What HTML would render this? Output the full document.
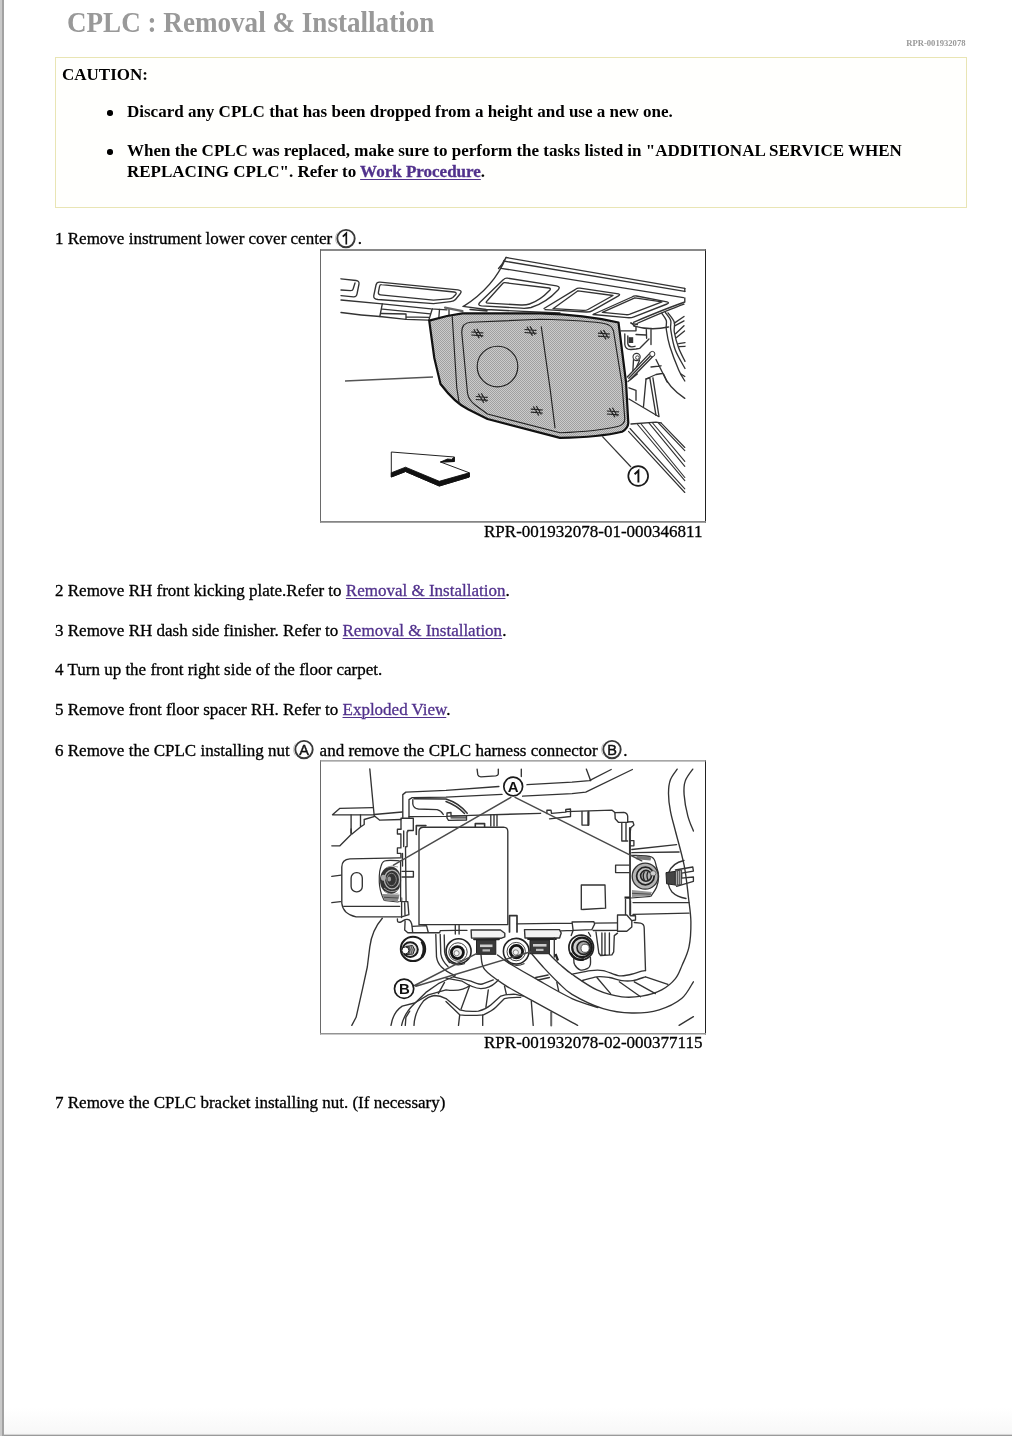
<!DOCTYPE html>
<html><head><meta charset="utf-8">
<style>
html,body{margin:0;padding:0;background:#fff;}
body{width:1012px;height:1436px;position:relative;overflow:hidden;font-family:"Liberation Serif",serif;color:#000;will-change:transform;}
#lstrip{position:absolute;left:0;top:0;width:4px;height:1436px;background:linear-gradient(to right,#c9c9c9 0,#c9c9c9 2px,#a2a2a2 2.5px,#a2a2a2 3.5px,#fff 4px);}
#bot{position:absolute;left:4px;top:1408px;width:1008px;height:28px;background:linear-gradient(to bottom,#fff 0,#f8f8f8 24px,#f4f4f4 26px,#9a9a9a 27.5px,#9a9a9a 28px);}
h1{position:absolute;left:67px;top:4.6px;margin:0;font-size:29.3px;line-height:34px;font-weight:bold;color:#999;white-space:nowrap;transform:scaleX(0.925);transform-origin:0 0;}
#rid{position:absolute;right:46.5px;top:38px;font-size:8.6px;font-weight:bold;color:#999;}
#caut{position:absolute;left:55px;top:57px;width:910px;height:149px;border:1px solid #e9e5b4;background:#fffffd;font-weight:bold;font-size:17px;}
#caut .t{position:absolute;left:6px;top:7px;}
.bl{position:absolute;left:71px;white-space:nowrap;line-height:20px;}
.bl i{position:absolute;left:-19.7px;top:8.3px;width:5.4px;height:5.4px;border-radius:50%;background:#000;}
a{-webkit-text-stroke:0.3px #51318c;color:#51318c;text-decoration:underline;text-underline-offset:2px;text-decoration-thickness:1px;}
.st{-webkit-text-stroke:0.3px #000;position:absolute;left:55px;font-size:17px;white-space:nowrap;line-height:20px;}
.cap{-webkit-text-stroke:0.3px #000;position:absolute;font-size:17px;white-space:nowrap;line-height:20px;}
.c{display:inline-block;width:21.4px;height:20px;vertical-align:top;position:relative;}
.c svg{position:absolute;left:-3.1px;top:-3px;}
.c1 svg{left:-3.1px;top:-2.2px;}
.fig{position:absolute;background:#fff;}
</style></head><body>
<div id="lstrip"></div><div id="bot"></div>
<h1>CPLC : Removal &amp; Installation</h1>
<div id="rid">RPR-001932078</div>
<div id="caut"><div class="t">CAUTION:</div>
<div class="bl" style="top:44px"><i></i>Discard any CPLC that has been dropped from a height and use a new one.</div>
<div class="bl" style="top:83px"><i></i>When the CPLC was replaced, make sure to perform the tasks listed in "ADDITIONAL SERVICE WHEN</div>
<div class="bl" style="top:104px">REPLACING CPLC". Refer to <a>Work Procedure</a>.</div></div>
<div class="st" style="top:229px">1 Remove instrument lower cover center <span class="c c1"><svg width="26" height="24" viewBox="-1 0 26 24"><path d="M3.6,5.5 A10.6,10.6 0 0 0 3.4,17.4" fill="none" stroke="#c4c4c4" stroke-width="1"/><circle cx="12" cy="11.6" r="8.7" fill="#fff" stroke="#3a3a3a" stroke-width="1.9"/><path d="M8.8,9.7 L12.3,6.3 L12.3,17.4" fill="none" stroke="#111" stroke-width="1.7" stroke-linejoin="miter"/></svg></span>.</div>
<div class="fig" id="f1" style="left:320px;top:249px;width:386px;height:274px"><svg width="386" height="274" viewBox="320 249 386 274" style="position:absolute;left:0;top:0">
<defs>
<pattern id="ht" width="2" height="2" patternUnits="userSpaceOnUse"><rect width="2" height="2" fill="#cbcbcb"/><rect width="1" height="1" fill="#a0a0a0"/><rect x="1" y="1" width="1" height="1" fill="#a0a0a0"/></pattern>
<g id="clip" stroke="#222" stroke-width="1.2" fill="none"><path d="M-6,-1.8 L6,-1 M-6,1.2 L6,2 M-3.5,-4.5 L2,4.5 M-0.5,-5 L4.5,3.5"/></g>
</defs>
<g fill="none" stroke="#333" stroke-width="1.35" stroke-linecap="round" stroke-linejoin="round">
<path d="M341,278.8 L356,280.5 Q359.5,281 359,284 L357,294 Q356.5,297 353.5,296.8 L341,295.6"/>
<path d="M341,290 L350.5,290.6 Q352.8,290.7 353.2,288.8 L355,283"/>
<path d="M380,282.1 L458,289.9 Q463,290.6 460,294 L455.5,299.5 Q454,301.3 450.5,301.7 L433.5,303.7 L378,299.5 Q373,299 373.8,295.5 L376,285 Q376.7,281.8 380,282.1 Z"/>
<path d="M381.5,284.6 L454,292 Q457.5,292.5 455.5,294.8 L452.8,297.5 Q451.5,298.6 449,298.8 L433.5,300.1 L380.5,294.8 Q378,294.5 378.4,292.4 L379.5,286.5 Q379.9,284.4 381.5,284.6 Z"/>
<path d="M341,300 L382.3,303.8 L431,308.8 L447,309.8"/>
<path d="M341,312.5 Q362,315.3 379.8,316.5 L406,319.4 L428.5,320.2"/>
<path d="M382.3,303.8 L379.8,316.5 M382.5,309.2 L430.5,313.8 M381.5,313.5 L406,314 M406,314 L406,319.4 M406.5,316.8 L429.5,317.3 M432.3,308.8 L428.8,320.3 M439.5,309.5 L438.8,318 M449,309.5 L449,316.5"/>
<path d="M445,307.6 L462.5,311.2" stroke="#666" stroke-width="2.2"/>
<path d="M506,257.5 L684.8,288.3 M503.5,261 L684.8,291.4 M501,268.3 L683.5,297.6"/>
<path d="M506,257.5 Q494,287 463.5,306.4 M505,259 Q502,265 498.5,268.5"/>
<path d="M684.8,288.3 L684.8,291.6 M684.8,298 L684.8,302 Q666,308.5 633.5,322.3 M684,304.2 Q668,310 637,323.5"/>
<path d="M463,306.4 L486.3,309.5 L523.8,311.4 L560,313 M470,309.5 L487,311"/>
<path d="M507.5,278.2 L556.5,285.8 Q561,286.6 558,290 Q546,303 531,307.5 Q527,308.6 521,308.2 L481.5,305.8 Q477,305.4 480,302.3 L503.5,279.6 Q505,277.8 507.5,278.2 Z"/>
<path d="M505,282.7 L549,288 Q551.5,288.4 549.5,290.5 Q540,300.5 529.5,304 Q526,305.2 521,305 L488,303.2 Q485,303 487,301 L502.5,283.7 Q503.5,282.5 505,282.7 Z"/>
<path d="M544,308.5 L575.5,289.3 Q577.5,287.8 580,288.2 L618.5,293.8 Q621,294.4 618,296.2 L592.5,310.6 Q590,312.2 586,312 L545,309.7"/>
<path d="M553,308.7 L578,290.8 L613,295.5 L588,309.5 Q586,310.6 583,310.4 Z"/>
<path d="M593,314.5 L632,297 Q634,295.5 636.5,296 L667,301.8 Q670,302.5 667,304 L634,316.8 Q631,318 627,317.6 L593,314.5 Z"/>
<path d="M602.3,312.3 L634.8,297.8 L662,301.8 L630,314.2 Q628,314.9 626,314.7 Z"/>
<path d="M631,323.3 L637.3,324.5 M633.5,325.8 Q650,331 668.5,327 M646.3,328.5 L646.6,338.3 M651,328.5 L651,344.5"/>
<path d="M661.8,313.3 C662.5,314.5 665.5,317.8 666.3,320.5 C667.0,323.2 665.7,325.1 666.3,329.4 C666.9,333.7 667.7,339.5 669.8,346.3 C671.9,353.1 676.2,364.2 678.7,370.0 C681.2,375.8 683.8,379.2 684.8,381.0 M665.4,312.5 C666.3,313.8 669.8,317.7 670.7,320.5 C671.6,323.3 670.0,324.5 670.7,329.4 C671.5,334.3 672.8,343.3 675.2,349.8 C677.6,356.3 683.4,365.4 685.0,368.5 M668.0,312.9 C669.0,314.4 673.2,319.0 674.3,322.2 C675.3,325.4 673.6,327.7 674.3,332.0 C675.0,336.3 676.9,343.1 678.7,348.0 C680.5,352.9 684.0,359.2 685.0,361.4"/>
<path d="M674.3,323.1 L684,316.5 M674.7,325.8 L684,320.9 M675.6,333.8 L684,325.8 M676.5,337.5 L684.5,331 M678.7,343.6 L685,342.7 M679.2,346.7 L685,346.3"/>
<path d="M621,330.8 L636,330.8 L636,327 L631,322.8"/>
<path d="M624.8,334 L624.8,344.5 Q625.5,349.8 631,349.5 L636,349 L639.8,348.3 L649,339"/>
<path d="M627.8,336 L627.8,343.5 Q628.5,347 632,346.8 L635,346.3"/>
<path d="M636,334.5 L646,335"/>
<path d="M627.3,377 L650.4,352.6 M630.4,379.5 L653.5,355.8 M628.8,378.3 L652,354.2"/>
<path d="M633.5,359.5 L632.9,370.8 M639.5,360.5 L636.5,367"/>
<path d="M656,359.5 L667.3,382.3 M651,367 L661,365.8 M646,379 L656,374.5 L662,373.5"/>
<path d="M629,387.8 L636,390.3 L636,400.3 M629,399 L658.5,416.5 M631,424 L656,422.1 L661,422.8"/>
<path d="M646,379 L643.5,406.5 M649.8,377.8 L656,415.3 M652.9,377.8 L659,416.5 M646,379 L649.8,377.8"/>
<path d="M628,381.5 L637.3,374 M663.5,374 Q668,387 684.8,398.4 M681,374 L684.8,376.5"/>
</g>
<circle cx="652.3" cy="354" r="2.6" fill="#fff" stroke="#333" stroke-width="1"/>
<circle cx="636.6" cy="357" r="3.6" fill="#fff" stroke="#333" stroke-width="1.1"/>
<circle cx="637.4" cy="357.6" r="1.8" fill="#fff" stroke="#333" stroke-width="0.9"/>
<rect x="628.6" y="337.2" width="4.6" height="5.8" fill="#333"/>
<path d="M429.2,320.6 L447,316 L462.5,313.4 L540,313.3 Q585,314.5 618.5,322.5 L626,382 L628.3,423 Q628,428.5 622,431.8 Q600,437.2 560,437.9 L487.5,419 L468,409.3 Q455,403 440.5,384 L434.3,358 Z" fill="url(#ht)" stroke="#111" stroke-width="2.2" stroke-linejoin="round"/>
<g fill="none" stroke="#222" stroke-width="1.15" stroke-linecap="round" stroke-linejoin="round">
<path d="M470.5,322.3 L540,319.3 Q590,320.5 606,324 Q612,325.5 613.5,331 L622,384 L624.8,419 Q624.5,424.5 618.5,426.3 Q598,431.5 560,432.8 L487.5,414 L475.5,405.3 Q468.5,400 467.5,393 L461.8,333 Q461.3,323 470.5,322.3 Z"/>
<path d="M452.2,316.5 L456.8,388 L459.3,404"/>
<path d="M541.3,326.8 L550,388 L555,427.8"/>
<circle cx="497.5" cy="366.5" r="20.3"/>
</g>
<use href="#clip" x="477.3" y="333.8"/><use href="#clip" x="530.5" y="331.3"/><use href="#clip" x="604" y="335"/>
<use href="#clip" x="481.8" y="398.3"/><use href="#clip" x="536.8" y="411"/><use href="#clip" x="612.9" y="412.8"/>
<path d="M345,381 L433,377" stroke="#555" stroke-width="1.3" fill="none"/>
<path d="M391.3,452 L454.3,457 L454.3,461.5 L440.5,462 L469.3,472.8 L469.3,477 L439.3,486 L405.5,471.5 L391.3,477 Z" fill="#fff" stroke="#222" stroke-width="1" stroke-linejoin="round"/>
<path d="M391.3,477 L405.5,471.5 L439.3,486 L469.3,477 L469.3,472.8 L439.3,481.3 L405.5,467.2 L391.3,472.8 Z" fill="#111" stroke="#111" stroke-width="0.9" stroke-linejoin="round"/>
<path d="M454.3,457.2 L454.3,461.5 L440.5,462 L447.5,459 L451.5,459.4 Z" fill="#111" stroke="#111" stroke-width="0.9" stroke-linejoin="round"/>
<path d="M602.3,436.3 L631,467" stroke="#333" stroke-width="1.2" fill="none"/>
<circle cx="638.2" cy="476" r="9.9" fill="#fff" stroke="#1a1a1a" stroke-width="1.7"/>
<path d="M634.6,474.3 L638.4,470.7 L638.4,482.4" fill="none" stroke="#111" stroke-width="1.9" stroke-linejoin="miter"/>
<g fill="none" stroke="#333" stroke-width="1.15" stroke-linecap="round">
<path d="M628.5,431.3 L684.8,492.5 M630,428.5 L684.8,488.8 M637.6,424.5 L684.8,480.6 M641.1,424 L684.8,477.5 M649.1,423.2 L684.8,466.3 M652.6,423 L684.8,461.3 M658,422.5 L684.8,450.6 M661,422.8 L684.8,447.5"/>
</g>
<path d="M320.5,249.3 L320.5,522.6" stroke="#6a6a6a" stroke-width="1" fill="none"/>
<path d="M705.5,249.3 L705.5,522.6" stroke="#222" stroke-width="1" fill="none"/>
<path d="M320,249.9 L706,249.9" stroke="#626262" stroke-width="1.5" fill="none"/>
<path d="M320,521.9 L706,521.9" stroke="#858585" stroke-width="1.6" fill="none"/>
</svg>
</div>
<div class="cap" style="left:484px;top:522px">RPR-001932078-01-000346811</div>
<div class="st" style="top:581px">2 Remove RH front kicking plate.Refer to <a>Removal &amp; Installation</a>.</div>
<div class="st" style="top:621px">3 Remove RH dash side finisher. Refer to <a>Removal &amp; Installation</a>.</div>
<div class="st" style="top:660px">4 Turn up the front right side of the floor carpet.</div>
<div class="st" style="top:700px">5 Remove front floor spacer RH. Refer to <a>Exploded View</a>.</div>
<div class="st" style="top:741px">6 Remove the CPLC installing nut <span class="c"><svg width="26" height="24" viewBox="-1 0 26 24"><path d="M3.6,5.5 A10.6,10.6 0 0 0 3.4,17.4" fill="none" stroke="#c4c4c4" stroke-width="1"/><circle cx="12" cy="11.6" r="8.7" fill="#fff" stroke="#3a3a3a" stroke-width="1.9"/><text x="12" y="16.7" text-anchor="middle" font-family="Liberation Sans, sans-serif" font-size="14.5" fill="#111" stroke="#111" stroke-width="0.45">A</text></svg></span> and remove the CPLC harness connector <span class="c"><svg width="26" height="24" viewBox="-1 0 26 24"><path d="M3.6,5.5 A10.6,10.6 0 0 0 3.4,17.4" fill="none" stroke="#c4c4c4" stroke-width="1"/><circle cx="12" cy="11.6" r="8.7" fill="#fff" stroke="#3a3a3a" stroke-width="1.9"/><text x="12" y="16.7" text-anchor="middle" font-family="Liberation Sans, sans-serif" font-size="14.5" fill="#111" stroke="#111" stroke-width="0.45">B</text></svg></span>.</div>
<div class="fig" id="f2" style="left:320px;top:760px;width:386px;height:275px"><svg width="386" height="275" viewBox="320 760 386 275" style="position:absolute;left:0;top:0">
<g fill="none" stroke="#333" stroke-width="1.35" stroke-linecap="round" stroke-linejoin="round">
<path d="M369.8,769 L374.2,815.8 L379.8,820.2 L401,819.5"/>
<path d="M332.5,814.8 L339.9,808.3 L372.9,807.7 M332.5,814.8 L373.5,814.8 M374.2,814.5 L402.2,812"/>
<path d="M351.1,814.8 L351.1,833 M360.5,814.8 L360.5,827 L352,834 M364.2,819.5 L364.2,824.5 L360.5,827 M364.2,819.5 L374.8,816.4"/>
<path d="M351.1,829 L351.1,834.5 L339.9,845.8 L331.8,845.8"/>
<path d="M402.8,817.6 L402.8,794.6 L405.9,792.1 L446,790.3 L498.9,786.5 M527,784.7 L572,782.2 L589.4,780.7 L611.2,769.5"/>
<path d="M409,817.6 L409,799.6 L412.2,797.7 L446,797.1 L502,794.4 M522.6,796.2 L572,793.6 L585.7,792.1 L632.4,769.5"/>
<path d="M586.3,769.1 L590.7,780.7"/>
<path d="M412.8,799.6 L412.8,804 Q413.5,808.5 418.4,809 L437.1,809.6 Q441,810.5 443.3,814.5" />
<path d="M414,798.8 L446,799 Q459,803 467.2,813.3 M446,801.5 Q457,805.5 464.5,813.5" stroke-width="1.5"/>
<path d="M447,813 L451,812.5 L451,815.8 L466.5,815.8 L466.5,820 L448.5,820.3 L447,818 Z M451,817.8 L466,817.8"/>
<path d="M477.1,769.1 L477.8,774.7 Q478.5,776.7 480.9,776.9 L495.8,775.9 Q498,775.5 498.3,774.1 L498.3,769.1 M521.3,769.1 L521.3,776.6"/>
<path d="M409,816.6 L446,816.3 L470.9,815.4 L540.6,813.3 M566,811.6 L612.1,810.2 L614.9,812.6 L623.9,812.3 Q627.5,813 627.7,816.4 L627.7,822 L632.9,821.6 L633.9,825 L630.8,827.8 L630.1,832.7"/>
<path d="M614.9,812.6 L615.2,818.8 L618.4,822.3 L627.7,822.3 M621.8,822.6 L621.8,841 L627.7,841 M626,822.6 L626,841"/>
<path d="M629.9,828 L629.9,853.4" stroke-width="1.9"/>
<path d="M546.9,813.5 L546.9,810.2 L551,810.2 L551.5,813.3 L565.8,812.2 L565.8,809.5 L570.5,809 L570.5,816.5 L549.5,818.8"/>
<path d="M490.8,815 L490.8,826 M494,815 L494,826 M497,815 L497,826"/>
<path d="M582,811.4 L582,825.1 L588.8,825.1 L588.8,811.4"/>
<path d="M588.2,812 L588.2,825" stroke-width="1.8"/>
<path d="M401,818.2 L413.3,818.2 L413.3,830.5 L407.8,830.5 L407.8,831.8 M401,818.2 L401,829"/>
<path d="M419,925 L419,831.5 Q419,827.2 423.5,827.2 L503.5,827.2 Q507.8,827.4 507.8,831.5 L507.8,924.6 L419,924.6" stroke-width="1.35"/>
<path d="M416.3,834.5 L416.3,825.6 L425.9,825.6 M475.3,826.8 L475.3,823.6 L484.6,823.6 L484.6,826.8" stroke-width="1.6"/>
<path d="M400.9,829.2 L397.4,829.2 L397.4,834 L400.9,834 L400.9,847.9 L397.4,847.9 L397.4,853.4 L400.9,853.4 L400.9,857.9 M403.7,831 L403.7,846.5 M407.1,831.8 L407.1,846.5 L405.5,847 L406.1,901.6 M402.5,853.5 L402.5,866"/>
<path d="M401.6,871.3 L413.4,871.3 L413.4,877 L401.6,877"/>
<path d="M399.7,857.9 L349.9,858.9 Q341.8,859.5 341.8,867 L341.8,903.2 Q343,914 356.1,916.9 L401,916.9"/>
<path d="M343.7,906.3 L399.7,906.3 M331.8,876.3 L341.2,875.1 M331.8,902.6 L340.5,901.7"/>
<rect x="351.1" y="872.6" width="11.2" height="19.3" rx="5.3"/>
<path d="M401.6,901.6 L407.8,901.6 L408.9,914.7 L401.6,916.8 M401.6,898 L401.6,917.5 M404.7,903 L405,915"/>
<path d="M397.4,918.9 C397.5,919.4 397.2,921.2 397.8,921.7 C398.4,922.2 399.7,922.4 400.9,922.0 C402.1,921.6 403.7,920.0 405.1,919.6 C406.5,919.2 408.1,919.2 409.2,919.9 C410.3,920.6 411.0,921.6 411.6,923.7 C412.2,925.8 412.5,931.2 412.7,932.7 M405.1,921 L404.7,930 L407.8,932.7 L439.6,932.7 L440.3,930.6 L455,930.3 L467,930.3 M412.2,926.3 L426.5,925.6 L428.3,932.5"/>
<path d="M517,923.8 L572,923.1 M572.1,922 L593.9,921.7 L594.6,924.1 L591.8,929.7 L573.1,930.4 Z M594.3,923.2 L617.4,922.8 M561,930.9 L573,930.4 M593.2,930.5 L617.4,930.3 M573.1,930.4 L571.2,935.5 M588.5,932.5 L590.6,936.2"/>
<path d="M455.3,925.5 L455.3,934 M459.1,925.5 L459.1,934"/>
<path d="M509.5,931.9 L509.5,915.7 L517,915.7 L517,931.9" stroke-width="1.7"/>
<path d="M471.1,930 L500.5,930 L504.8,933.2 L504.8,936.8 L501.5,938.2 L471.5,938 Z M524.5,929.6 L559.5,929.6 L561.2,933 L559.6,938 L525,938 Z" stroke-width="1.4" fill="#f2f2f2"/>
<path d="M474,939.3 L499,939.3 M528,939 L556,939" stroke="#222" stroke-width="1.8"/>
<path d="M554.3,938 L554.3,957"/>
<path d="M630.1,840.6 L633.9,840.6 L633.9,845.8 L630.1,845.8 M629.9,832 L629.9,915"/>
<path d="M631.8,849.5 L676.6,844.6 M631.8,852.7 L679.1,852"/>
<path d="M615.6,865.1 L629.3,865.1 M615.6,865.1 L615.6,872.6 L629.3,872.6"/>
<path d="M581.3,909.5 L581.3,885 L605,885 L605.6,908.2 L582.6,909.5"/>
<path d="M625.5,899.5 L625.5,914.5 M630.5,900.7 L630.5,915.7 L635.5,915.7 L635.5,920 L631.8,920.7"/>
<path d="M617.5,915 L626.8,915 L631.8,920.7 L631.8,926.9 L626.8,931.2 L617.5,931.2 Z"/>
<path d="M633,902.6 L689,902.6 M633,914.4 L689,913.2"/>
<path d="M634.3,922.5 L640.5,923.2 Q644.2,924 644.2,928 L645.5,970.6"/>
<path d="M596,932 L598.8,953 L600.6,955.5 L611.9,954.9 L613.7,951.8 L614.3,935.6 L617.5,933.1 M601.9,933 L601.9,955 M605,933 L605,955 M609.4,933 L609.4,955"/>
<path d="M692.8,769.1 C691.5,771.1 686.8,776.6 685.3,780.9 C683.8,785.1 683.7,788.8 684.1,794.6 C684.5,800.4 686.2,809.7 687.8,815.8 C689.3,821.9 692.5,828.5 693.4,831.0"/>
<path d="M549.4,954.3 C551.3,956.1 556.8,961.7 560.6,965.0 C564.4,968.3 566.0,970.1 572.0,974.3 C578.0,978.4 588.6,986.1 596.9,989.9 C605.2,993.6 614.3,995.8 621.8,996.8 C629.3,997.8 635.1,997.2 641.7,996.1 C648.4,995.0 656.1,992.8 661.7,989.9 C667.3,987.0 672.0,982.9 675.4,978.7 C678.8,974.6 679.9,970.3 682.2,965.0 C684.5,959.7 687.5,954.0 689.0,946.8 C690.5,939.6 691.0,930.2 690.9,921.9 C690.8,913.6 689.5,906.5 688.4,897.0 C687.3,887.5 686.3,876.1 684.1,865.1 C681.9,854.1 677.7,840.0 675.4,831.0 C673.1,822.0 671.5,817.1 670.4,810.8 C669.2,804.5 668.5,798.6 668.5,793.4 C668.5,788.2 668.9,783.8 670.4,779.7 C671.9,775.7 676.1,770.9 677.2,769.1"/>
<path d="M532.0,954.3 C533.9,956.4 538.8,962.3 543.1,967.0 C547.5,971.7 553.3,977.9 558.1,982.4 C562.9,986.9 564.5,989.9 572.0,994.3 C579.5,998.7 593.1,1005.5 603.1,1008.6 C613.1,1011.7 622.4,1012.8 631.8,1013.0 C641.1,1013.2 650.9,1012.2 659.2,1009.8 C667.5,1007.4 675.9,1003.3 681.6,998.6 C687.3,993.9 691.4,984.6 693.4,981.8"/>
<path d="M684,860.5 Q672,863 668.5,873 Q666,884 672,892 Q677,897 686,898.5"/>
<path d="M675.4,870 L692.8,867 L693.4,871.2 L681.6,873.2 L681.6,878.2 L693.4,877 L693.4,881.3 L676.6,886.3"/>
<path d="M382.3,918.2 Q372,930 369.8,946.8 L367.3,967 L362.3,989.9 L356.1,1017.3 L351.8,1025.4"/>
<path d="M435.8,934.4 L436.5,956.8 Q437.5,963 441.5,967 Q446.5,972 455,975.5 M440.2,934.4 L440.8,954 Q442,961 448,966.5 M444.2,935 L444.6,952 Q445.5,958 449.5,962.5"/>
<path d="M391,1025.4 Q393,1012.3 402.2,1006.1 L414.6,1003 L428.3,994.9 L446,989.9 Q462,992 469.7,985.5"/>
<path d="M401.6,1025.4 Q404,1013.6 414.6,1003.6 L425.9,992.4 L438.3,983.7 L446,980 L455,976"/>
<path d="M405.3,1025.4 L405.9,1017.3 L409.7,1011.1 M414,1025.4 Q414.5,1012.3 423.4,1001.1 Q428,996.5 434.6,995.5 Q440,995.5 446,998.6 L459.7,1009.8 Q468,1012 478.4,1011.1 Q486,1009 490.8,1004.9 L500.8,996.1 Q507,994 515.7,994.3 L523.2,996.1"/>
<path d="M438.3,993.6 L444.5,982.4"/>
<path d="M446,1001.5 L459.7,1014.8 Q470,1016 483.4,1014.8 Q492,1011 495.8,1007.3 L504.5,998.6 Q511,997 520.7,997.4"/>
<path d="M446,978.1 L462.2,981.2 Q473,988 480.9,988.7 Q490,988 495.8,982.4 L498.3,980 M453.5,976.8 L470.9,981.2 Q480,985.5 483.4,983.7 Q489,981.5 493.3,979.9"/>
<path d="M469.7,985.5 L461,1009.2 M488.3,989.9 L485.9,1007.3 M504.5,986.2 L506.4,994.3 M459.7,1014.8 L458.5,1025.4 M482.7,1014.8 L482.7,1025.4 M531.3,1001.1 L533.2,1025.4"/>
<path d="M551.2,1012.3 L551.2,1025.4" stroke="#666" stroke-width="2"/>
<path d="M481.0,955.0 C481.6,957.4 480.7,964.4 484.6,969.4 C488.5,974.4 496.4,979.6 504.5,984.9 C512.6,990.2 522.0,994.9 533.2,1001.1 C544.5,1007.3 564.6,1018.2 572.0,1022.3 C579.4,1026.3 576.7,1024.9 577.6,1025.4"/>
<path d="M497.5,955.0 C498.4,955.7 500.6,957.3 503.0,959.0 C505.4,960.7 506.6,961.7 512.0,965.0 C517.5,968.3 525.7,973.1 535.7,978.7 C545.7,984.3 561.6,993.8 572.0,998.6 C582.4,1003.4 593.7,1006.0 598.0,1007.5"/>
<path d="M535.7,977.5 L548.1,975 M538.2,980 L549.4,977.5 M556.8,982.4 L558.7,991.2"/>
<path d="M572.0,974.3 C575.1,973.7 585.5,971.2 590.7,970.6 C595.9,970.0 598.5,969.8 603.1,970.6 C607.7,971.4 614.0,974.9 618.1,975.6 C622.2,976.3 624.1,975.7 628.0,975.0 C631.9,974.3 638.8,971.9 641.7,971.2 C644.6,970.5 644.9,970.7 645.5,970.6"/>
<path d="M582.0,980.6 C584.5,980.0 592.3,977.3 596.9,976.8 C601.5,976.3 605.2,976.9 609.4,977.5 C613.5,978.1 617.9,980.1 621.8,980.6 C625.7,981.1 629.0,981.2 633.0,980.6 C637.0,980.0 643.4,977.4 645.5,976.8 M645.5,976.8 L667.9,984.3"/>
<path d="M596.9,977.5 L610.6,993.6 M619.3,981.8 L640.5,996.8 M634.3,981.8 L655.4,993.6"/>
<path d="M679.1,1025.4 L693.4,1016.7"/>
<path d="M573.8,958.7 C573.9,959.6 573.5,962.4 574.5,964.3 C575.5,966.1 577.8,969.1 580.0,969.8 C582.2,970.5 586.0,969.3 587.7,968.4 C589.4,967.5 590.0,966.1 590.4,964.3 C590.8,962.4 590.4,958.5 590.4,957.3"/>
</g>
<g>
<path d="M399.7,860.8 C397.2,860.8 387.7,859.8 384.5,861.0 C381.3,862.2 381.4,865.5 380.5,868.0 C379.6,870.5 379.4,873.0 379.3,876.0 C379.2,879.0 379.2,883.0 379.6,886.0 C380.0,889.0 380.7,891.6 381.5,894.0 C382.3,896.4 383.8,899.4 384.3,900.5" fill="#fff" stroke="#333" stroke-width="1.2"/>
<path d="M384.3,900.5 L397.7,902 L399.7,901.5" fill="none" stroke="#333" stroke-width="1.2"/>
<path d="M382,894 L384.3,900.3 L397.7,901.6 L399.7,894.5 Z" fill="#8a8a8a"/>
<path d="M384,897.3 L398.5,898" stroke="#444" stroke-width="0.9"/>
<ellipse cx="390.6" cy="880.3" rx="10.6" ry="13.8" fill="#333"/>
<ellipse cx="392" cy="879.5" rx="7.6" ry="9.4" fill="none" stroke="#b5b5b5" stroke-width="1.3"/>
<ellipse cx="391.5" cy="879.5" rx="4.8" ry="6.2" fill="none" stroke="#888" stroke-width="1"/>
<path d="M384,888 Q390,894 398,890 M385,891.5 Q391,896 398.5,893" stroke="#aaa" stroke-width="0.9" fill="none"/>
<ellipse cx="383.4" cy="877.8" rx="2.4" ry="3" fill="#aaa"/>
<ellipse cx="389.3" cy="879" rx="1.8" ry="2.6" fill="#999"/>
<path d="M386.5,867.5 Q392,864.5 398,867" stroke="#999" stroke-width="0.9" fill="none"/>
<rect x="399.8" y="861" width="1.6" height="40" fill="#fff"/>
<path d="M400.6,860 L400.6,902" stroke="#333" stroke-width="1.3"/>
</g>
<g>
<path d="M631.0,855.4 C634.4,855.7 647.3,855.0 651.6,857.0 C655.9,859.0 655.4,864.1 656.6,867.3 C657.8,870.5 658.6,872.9 658.6,876.2 C658.6,879.5 657.9,883.6 656.6,887.0 C655.3,890.4 651.7,894.8 650.7,896.4" fill="#fff" stroke="#333" stroke-width="1.3"/>
<path d="M650.7,896.4 L631,898" fill="none" stroke="#333" stroke-width="1.2"/>
<path d="M637,855.8 L651.3,857.3 L650.5,860.5 L636,859.2 Z" fill="#777"/>
<path d="M632,890 L652,892 L650,896 L632,897 Z" fill="#999"/>
<path d="M632,893.3 L651,894.2" stroke="#444" stroke-width="0.9"/>
<circle cx="645.2" cy="876.2" r="13" fill="#b4b4b4" stroke="#333" stroke-width="1.3"/>
<circle cx="645.4" cy="876" r="8.8" fill="#c4c4c4" stroke="#222" stroke-width="1.7"/>
<circle cx="646" cy="875.8" r="5.4" fill="#b0b0b0" stroke="#222" stroke-width="1.6"/>
<path d="M644.5,871.5 Q642,876 644.5,880.5 M648,871.8 Q646,876 648,880" stroke="#222" stroke-width="1.3" fill="none"/>
<ellipse cx="653.1" cy="873.3" rx="2.9" ry="2.6" fill="#cfcfcf" stroke="#444" stroke-width="0.7"/>
<rect x="624.5" y="896.5" width="6" height="2.2" fill="#222"/>
<path d="M630.2,853 L630.2,900" stroke="#333" stroke-width="1.3"/>
</g>
<path d="M666,872.6 L675.4,871.4 L675.4,885 L666.6,883.8 Z" fill="#444" stroke="#222" stroke-width="1"/>
<path d="M675.4,871 L681.6,870 L681.6,884.5 L675.4,885.4 Z" fill="#aaa" stroke="#333" stroke-width="0.9"/>
<path d="M677.5,870.8 L677.5,885 M679.6,870.4 L679.6,884.8" stroke="#444" stroke-width="0.8"/>
<g>
<circle cx="413" cy="948.9" r="12.2" fill="#fff" stroke="#1c1c1c" stroke-width="2"/>
<path d="M421.8,941.2 Q426.3,949.2 421.8,957.2" fill="none" stroke="#1c1c1c" stroke-width="2.8"/>
<ellipse cx="410.2" cy="949.6" rx="7.6" ry="7.4" fill="#e2e2e2" stroke="#1c1c1c" stroke-width="2"/>
<path d="M406,946.4 L412.5,945.6 L414.6,949.5 L413,954 L406,954.6 Z" fill="#555" stroke="#222" stroke-width="1"/>
<path d="M410,946 L411.3,949.7 L410,954 M412,946 L413.2,949.7 L412,954" stroke="#ccc" stroke-width="0.7" fill="none"/>
<circle cx="405.4" cy="950.4" r="3.5" fill="#fff" stroke="#222" stroke-width="1"/>
</g>
<g>
<circle cx="458.6" cy="951.2" r="12.5" fill="#fff" stroke="#222" stroke-width="1.6"/>
<circle cx="458" cy="952" r="9.2" fill="#fff" stroke="#444" stroke-width="1"/>
<circle cx="457.4" cy="952.6" r="6" fill="#e6e6e6" stroke="#151515" stroke-width="2.8"/>
<circle cx="456.6" cy="953.2" r="2.6" fill="#f4f4f4" stroke="#555" stroke-width="0.7"/>
<circle cx="516.2" cy="951.2" r="12.8" fill="#fff" stroke="#222" stroke-width="1.6"/>
<circle cx="516.2" cy="951.6" r="9.2" fill="#fff" stroke="#444" stroke-width="1"/>
<circle cx="516.4" cy="951.6" r="6.2" fill="#e6e6e6" stroke="#151515" stroke-width="2.8"/>
<circle cx="515.8" cy="952.4" r="2.6" fill="#f4f4f4" stroke="#555" stroke-width="0.7"/>
<path d="M449,961.5 Q456,967 465,963.5 M507.5,962 Q515,968 524.5,963.5" fill="none" stroke="#333" stroke-width="1.1"/>
</g>
<g>
<rect x="476.5" y="940" width="19.3" height="14.3" fill="#3a3a3a" stroke="#222" stroke-width="1"/>
<rect x="480" y="944.5" width="12.5" height="2.6" fill="#ccc"/><rect x="482.5" y="949.3" width="7.5" height="2.2" fill="#bbb"/>
<rect x="530" y="940" width="19.4" height="13.7" fill="#3a3a3a" stroke="#222" stroke-width="1"/>
<rect x="533" y="944" width="13.5" height="2.6" fill="#ccc"/><rect x="536" y="948.8" width="7.5" height="2.2" fill="#bbb"/>
<path d="M555.5,954 L558,960.5" stroke="#222" stroke-width="2.2"/>
</g>
<g>
<circle cx="581.2" cy="947.4" r="12.3" fill="#fff" stroke="#222" stroke-width="1.7"/>
<path d="M570.5,953 Q575,961.5 584,959.3" fill="none" stroke="#1a1a1a" stroke-width="2.6"/>
<circle cx="582" cy="947.4" r="9.8" fill="#d0d0d0" stroke="#1a1a1a" stroke-width="2.2"/>
<circle cx="583.6" cy="947.8" r="6.6" fill="#aaa" stroke="#222" stroke-width="1.6"/>
<circle cx="585.1" cy="948.3" r="4.1" fill="#fff" stroke="#444" stroke-width="0.9"/>
</g>
<g fill="none" stroke="#4a4a4a" stroke-width="1.5" stroke-linecap="round">
<path d="M510.8,797.4 L393.5,865.1 M515.1,797.4 L641.7,860.8"/>
<path d="M414.6,985.5 L476.5,953.7 M415.9,986.2 L530.7,951.8"/>
</g>
<circle cx="513.2" cy="786.5" r="9.4" fill="#fff" stroke="#1a1a1a" stroke-width="1.7"/>
<text x="513.2" y="792" text-anchor="middle" font-family="Liberation Sans, sans-serif" font-size="15" font-weight="bold" fill="#111">A</text>
<circle cx="404.1" cy="988.7" r="9.6" fill="#fff" stroke="#1a1a1a" stroke-width="1.7"/>
<text x="404.3" y="994.2" text-anchor="middle" font-family="Liberation Sans, sans-serif" font-size="15" font-weight="bold" fill="#111">B</text>
<path d="M320.5,760.3 L320.5,1034.4" stroke="#6a6a6a" stroke-width="1" fill="none"/>
<path d="M705.5,760.3 L705.5,1034.4" stroke="#222" stroke-width="1" fill="none"/>
<path d="M320,760.9 L706,760.9" stroke="#8a8a8a" stroke-width="1.4" fill="none"/>
<path d="M320,1033.7 L706,1033.7" stroke="#939393" stroke-width="1.5" fill="none"/>
</svg>
</div>
<div class="cap" style="left:484px;top:1033px">RPR-001932078-02-000377115</div>
<div class="st" style="top:1093px">7 Remove the CPLC bracket installing nut. (If necessary)</div>
</body></html>
